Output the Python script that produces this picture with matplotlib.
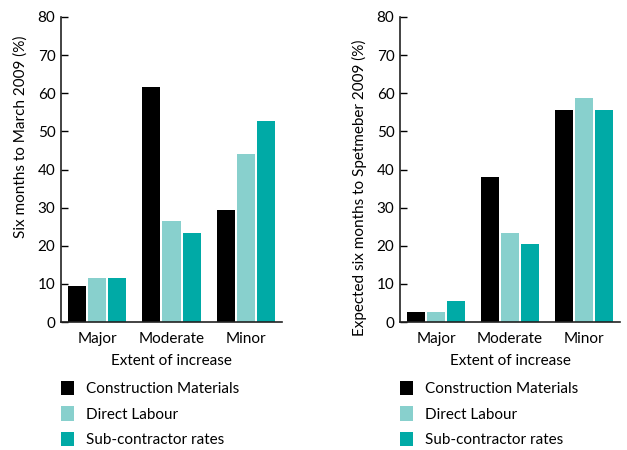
import matplotlib
matplotlib.use("Agg")
import matplotlib.pyplot as plt
import numpy as np
from matplotlib.patches import Patch

categories = ["Major", "Moderate", "Minor"]
series_names = ["Construction Materials", "Direct Labour", "Sub-contractor rates"]
colors = ["#000000", "#88D0CD", "#00AAA6"]

left_materials = [9.5, 61.6, 29.4]
left_labour = [11.6, 26.5, 44.1]
left_subcon = [11.6, 23.4, 52.7]

right_materials = [2.7, 38.0, 55.6]
right_labour = [2.7, 23.4, 58.7]
right_subcon = [5.6, 20.5, 55.6]

left_ylabel = "Six months to March 2009 (%)"
right_ylabel = "Expected six months to Spetmeber 2009 (%)"
xlabel = "Extent of increase"
yticks = [0, 10, 20, 30, 40, 50, 60, 70, 80]

plt.rcParams['font.family'] = ['Lato', 'DejaVu Sans']
FS = 11

fig = plt.figure(figsize=(6.27, 4.5), dpi=100)
W, H = 627, 450

def make_ax(x0, x1, y_top, y_bot):
    return fig.add_axes([x0 / W, 1 - y_bot / H, (x1 - x0) / W, (y_bot - y_top) / H])

axL = make_ax(61, 282, 17, 322)
axR = make_ax(400, 620, 17, 322)

x = np.arange(len(categories))
step = 0.27
bw = 0.243

for ax, data, ylab, lab_y in [(axL, [left_materials, left_labour, left_subcon], left_ylabel, 0.607),
                              (axR, [right_materials, right_labour, right_subcon], right_ylabel, 0.44)]:
    for i, (vals, c) in enumerate(zip(data, colors)):
        ax.bar(x + (i - 1) * step, vals, width=bw, color=c, linewidth=0)
    ax.set_xlim(-0.49, 2.49)
    ax.set_ylim(0, 80)
    ax.set_yticks(yticks)
    ax.set_xticks(x)
    ax.set_xticklabels(categories, fontsize=FS)
    ax.tick_params(axis='x', length=0, pad=7)
    ax.tick_params(axis='y', direction='in', length=5, width=1, pad=4, labelsize=FS)
    ax.spines['top'].set_visible(False)
    ax.spines['right'].set_visible(False)
    ax.spines['left'].set_linewidth(1.2)
    ax.spines['bottom'].set_linewidth(1.2)
    ax.spines['left'].set_color('#222222')
    ax.spines['bottom'].set_color('#222222')
    ax.set_ylabel(ylab, fontsize=FS)
    ax.yaxis.set_label_coords(-33 / 221, lab_y)
    ax.set_xlabel(xlabel, fontsize=FS, labelpad=6)
    ax.patch.set_alpha(0)

handles = [Patch(facecolor=c, edgecolor='none') for c in colors]
for lx in [61, 400]:
    fig.legend(handles, series_names, loc='upper left',
               bbox_to_anchor=(lx / W, 1 - 381 / H), frameon=False,
               fontsize=FS, handlelength=0.85, handleheight=1.05,
               handletextpad=0.8, labelspacing=0.66, borderpad=0, borderaxespad=0)

fig.savefig("out.png", dpi=100)
